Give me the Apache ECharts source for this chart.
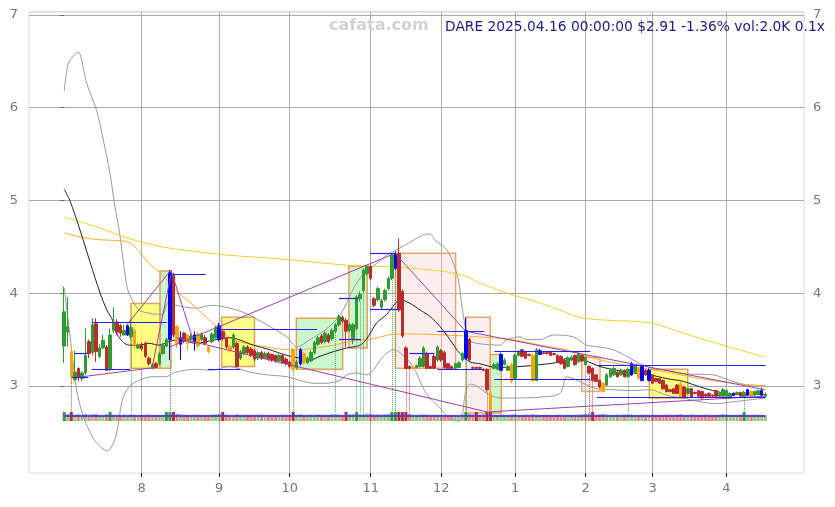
<!DOCTYPE html>
<html><head><meta charset="utf-8">
<script src="https://cdn.jsdelivr.net/npm/echarts@6/dist/echarts.min.js"></script>
<style>html,body{margin:0;padding:0;background:#fff}#c{width:835px;height:507px}</style>
</head><body><div id="c"></div>
<script>
// trading-day index 0 = 2024-07-01 ... 199 = 2025-04-16 ; rows are [open, close, low, high]
const candles = [
[3.43,3.80,3.25,4.07],[3.58,3.64,3.42,3.96],[3.37,3.09,3.03,3.44],[3.07,3.15,3.05,3.38],[3.19,3.09,3.05,3.20],
[3.08,3.14,3.05,3.16],[3.14,3.33,3.12,3.62],[3.48,3.35,3.30,3.50],[3.36,3.66,3.33,3.73],[3.67,3.37,3.26,3.73],
[3.32,3.41,3.30,3.45],[3.41,3.49,3.40,3.55],[3.42,3.17,3.16,3.44],[3.18,3.55,3.16,3.62],[3.60,3.69,3.57,3.85],
[3.69,3.58,3.55,3.72],[3.65,3.57,3.53,3.67],[3.55,3.60,3.54,3.66],[3.55,3.65,3.54,3.66],[3.53,3.63,3.50,3.71],
[3.60,3.44,3.40,3.62],[3.41,3.44,3.40,3.46],[3.45,3.40,3.38,3.47],[3.46,3.32,3.30,3.48],[3.30,3.24,3.22,3.32],
[3.19,3.23,3.18,3.25],[3.24,3.20,3.19,3.26],[3.24,3.35,3.22,3.37],[3.35,3.44,3.34,3.46],[3.43,3.50,3.42,3.52],
[3.50,4.22,3.28,4.25],[4.20,3.55,3.52,4.22],[3.64,3.46,3.41,3.66],[3.45,3.52,3.28,3.59],[3.57,3.48,3.46,3.58],
[3.55,3.46,3.39,3.56],[3.50,3.54,3.48,3.56],[3.48,3.55,3.38,3.59],[3.56,3.43,3.41,3.58],[3.50,3.56,3.48,3.58],
[3.52,3.46,3.44,3.55],[3.42,3.37,3.35,3.44],[3.48,3.56,3.46,3.58],[3.52,3.63,3.50,3.65],[3.50,3.65,3.48,3.68],
[3.59,3.51,3.49,3.61],[3.51,3.42,3.40,3.53],[3.43,3.38,3.36,3.45],[3.42,3.55,3.40,3.57],[3.46,3.21,3.20,3.48],
[3.30,3.37,3.28,3.39],[3.35,3.42,3.33,3.44],[3.42,3.36,3.34,3.44],[3.40,3.33,3.31,3.42],[3.38,3.29,3.27,3.40],
[3.30,3.36,3.28,3.38],[3.36,3.30,3.28,3.38],[3.30,3.35,3.29,3.37],[3.35,3.29,3.27,3.37],[3.34,3.28,3.26,3.35],
[3.33,3.27,3.25,3.34],[3.27,3.33,3.26,3.35],[3.33,3.25,3.24,3.34],[3.29,3.24,3.22,3.31],[3.26,3.21,3.19,3.27],
[3.39,3.18,3.16,3.41],[3.20,3.26,3.18,3.28],[3.24,3.39,3.22,3.41],[3.35,3.25,3.23,3.37],[3.25,3.30,3.24,3.32],
[3.27,3.36,3.26,3.38],[3.36,3.47,3.34,3.49],[3.45,3.52,3.43,3.54],[3.54,3.47,3.45,3.56],[3.48,3.57,3.46,3.59],
[3.55,3.48,3.46,3.57],[3.51,3.60,3.49,3.62],[3.59,3.66,3.57,3.68],[3.66,3.75,3.64,3.77],[3.74,3.70,3.68,3.76],
[3.71,3.59,3.42,3.73],[3.60,3.66,3.58,3.68],[3.50,3.66,3.45,3.68],[3.62,3.96,3.60,3.98],[3.94,3.99,3.91,4.02],
[4.03,4.25,4.01,4.27],[4.21,4.29,4.19,4.31],[4.29,4.16,4.14,4.31],[3.94,3.87,3.85,3.96],[3.93,4.05,3.91,4.07],
[3.85,3.92,3.83,3.94],[3.93,4.03,3.91,4.05],[4.05,4.16,4.03,4.18],[4.16,4.41,4.14,4.43],[4.27,4.42,4.25,4.45],
[4.43,3.82,3.80,4.59],[4.02,3.54,3.52,4.04],[3.41,3.19,3.18,3.43],[3.21,3.19,3.18,3.22],[3.19,3.20,3.18,3.21],
[3.20,3.22,3.19,3.23],[3.21,3.30,3.20,3.32],[3.21,3.41,3.20,3.43],[3.35,3.19,3.18,3.37],[3.21,3.19,3.18,3.22],
[3.32,3.19,3.18,3.34],[3.28,3.42,3.26,3.44],[3.38,3.28,3.26,3.40],[3.36,3.20,3.19,3.38],[3.24,3.19,3.18,3.25],
[3.21,3.19,3.18,3.22],[3.19,3.24,3.18,3.25],[3.20,3.25,3.19,3.27],[3.28,3.35,3.26,3.37],[3.30,3.60,3.28,3.74],
[3.50,3.28,3.26,3.52],[3.20,3.19,3.18,3.21],[3.20,3.19,3.18,3.21],[3.20,3.19,3.18,3.21],[3.18,3.17,3.16,3.19],
[3.18,2.96,2.94,3.19],[2.92,2.74,2.71,2.94],[3.19,3.23,3.18,3.25],[3.18,3.24,3.17,3.26],[3.17,3.34,3.16,3.36],
[3.23,3.28,3.22,3.30],[3.17,3.21,3.16,3.23],[3.23,3.05,3.03,3.25],[3.08,3.33,3.07,3.35],[3.33,3.37,3.32,3.39],
[3.39,3.32,3.31,3.40],[3.37,3.30,3.29,3.38],[3.34,3.33,3.32,3.35],[3.33,3.06,3.04,3.35],[3.06,3.39,3.05,3.41],
[3.34,3.38,3.33,3.40],[3.36,3.35,3.34,3.37],[3.36,3.35,3.34,3.37],[3.37,3.33,3.32,3.38],[3.35,3.34,3.33,3.36],
[3.33,3.26,3.25,3.34],[3.32,3.24,3.23,3.33],[3.28,3.19,3.18,3.29],[3.21,3.30,3.20,3.32],[3.28,3.31,3.27,3.33],
[3.33,3.23,3.22,3.34],[3.26,3.35,3.25,3.37],[3.33,3.27,3.26,3.34],[3.23,3.31,3.22,3.33],[3.21,3.14,3.13,3.22],
[3.19,3.06,3.05,3.20],[3.12,3.05,3.04,3.13],[3.06,2.99,2.98,3.07],[3.03,2.94,2.93,3.04],[3.01,3.12,3.00,3.14],
[3.10,3.17,3.09,3.19],[3.12,3.19,3.11,3.21],[3.15,3.10,3.09,3.16],[3.12,3.17,3.11,3.19],[3.17,3.10,3.09,3.18],
[3.10,3.18,3.09,3.20],[3.12,3.24,3.11,3.26],[3.15,3.21,3.14,3.23],[3.19,3.08,3.07,3.20],[3.06,3.21,3.05,3.23],
[3.17,3.12,3.11,3.18],[3.06,3.17,3.05,3.19],[3.12,3.03,3.02,3.13],[3.08,3.05,3.04,3.09],[3.08,3.03,3.02,3.09],
[3.06,2.97,2.96,3.07],[3.01,2.94,2.93,3.02],[2.96,2.94,2.93,2.97],[2.97,2.92,2.91,2.98],[3.01,2.92,2.91,3.02],
[3.03,2.88,2.87,3.04],[2.99,2.88,2.87,3.00],[2.92,2.97,2.91,2.98],[2.97,2.88,2.87,2.98],[2.93,2.92,2.91,2.94],
[2.95,2.89,2.88,2.96],[2.94,2.87,2.86,2.95],[2.91,2.89,2.88,2.92],[2.92,2.89,2.88,2.93],[2.90,2.89,2.88,2.91],
[2.95,2.89,2.88,2.96],[2.89,2.92,2.88,2.94],[2.89,2.96,2.88,2.98],[2.89,2.95,2.88,2.96],[2.87,2.92,2.86,2.93],
[2.90,2.92,2.89,2.93],[2.91,2.93,2.90,2.94],[2.93,2.89,2.88,2.94],[2.88,2.93,2.87,2.95],[2.90,2.96,2.89,2.97],
[2.94,2.89,2.88,2.95],[2.90,2.94,2.89,2.95],[2.91,2.95,2.90,2.96],[2.90,2.95,2.89,2.98],[2.89,2.91,2.88,2.93]
];
const orangeDays = [2,20,32,35,38,41,47,65,68,99,121,127,133,153,163,175,195];
const blueDays = [18,30,33,37,44,67,94,114,124,135,161,164,166,190,194,198];
const volumes = [
1.0,0.8,1.0,0.7,0.75,0.65,0.8,0.7,0.75,0.8, 0.6,0.65,0.75,1.0,0.7,0.65,0.6,0.7,0.6,0.75,
0.7,0.6,0.65,0.6,0.7,0.6,0.55,0.65,0.7,1.0, 1.0,1.0,0.8,0.75,0.7,0.65,0.6,0.7,0.65,0.6,
0.65,0.6,0.7,0.75,0.8,1.0,0.7,0.65,0.6,0.75, 0.6,0.65,0.7,0.6,0.65,0.6,0.7,0.6,0.65,0.6,
0.65,0.6,0.7,0.65,0.6,1.0,0.7,0.75,0.65,0.6, 0.7,0.65,0.75,0.6,0.7,0.65,0.75,0.8,0.7,0.65,
1.0,0.75,0.8,1.0,0.75,0.8,0.85,0.8,0.7,0.75, 0.7,0.75,0.8,1.0,1.0,1.0,1.0,1.0,0.8,0.7,
0.65,0.7,0.75,0.7,0.6,0.65,0.7,0.65,0.6,0.65, 0.6,0.65,0.6,0.7,1.0,0.8,0.75,1.0,0.7,0.75,
1.0,1.0,0.7,0.65,0.75,0.6,0.65,0.7,0.75,0.6, 0.65,0.7,0.6,0.75,0.7,0.65,0.6,0.65,0.6,0.65,
0.7,0.6,0.65,0.7,0.6,0.65,0.7,0.75,0.8,0.85, 1.0,0.7,0.75,0.8,0.7,0.65,0.6,0.7,0.65,0.7,
0.75,0.7,0.65,0.6,0.7,0.65,0.6,0.7,0.65,0.6, 0.65,0.7,0.6,0.65,0.7,0.75,0.6,0.65,0.7,0.6,
0.65,0.6,0.7,0.65,0.6,0.65,0.7,0.75,0.7,0.65, 0.6,0.65,0.7,1.0,0.65,0.6,0.7,0.65,0.6,0.65
];
const monthStarts = [22,44,64,87,107,128,148,167,188];
const monthLabels = ['8','9','10','11','12','1','2','3','4'];
const priceTicks = [3,4,5,6,7];
const maBlack = [[0,5.12],[1.6,5.0],[4.5,4.68],[7.3,4.34],[10.2,4.0],[12.1,3.82],[13.7,3.71],[14.6,3.59],[16.5,3.48],[18.4,3.44],[21.2,3.44],[24.1,3.46],[26.9,3.44],[29.8,3.48],[32.6,3.50],[37.3,3.46],[43,3.50],[47.1,3.52],[53.7,3.44],[58.4,3.39],[63.2,3.33],[66.9,3.30],[69.8,3.28],[72.6,3.32],[76.4,3.37],[80.2,3.41],[84,3.44],[85.9,3.51],[88.7,3.68],[91.5,3.77],[94.4,3.91],[95.3,3.93],[98.2,3.89],[101,3.82],[103.8,3.75],[106.7,3.64],[109.5,3.50],[112.3,3.35],[115.2,3.26],[118,3.24],[120.9,3.21],[123.7,3.20],[129.4,3.21],[135.1,3.23],[140.7,3.26],[142.6,3.30],[147.3,3.28],[152.1,3.21],[156.8,3.17],[161.5,3.14],[166.3,3.12],[171,3.08],[175.7,3.05],[180.5,2.99],[185.2,2.94],[189.9,2.91],[199,2.91]];
const maOrange = [[0,4.65],[4.2,4.61],[8.9,4.58],[13.7,4.57],[18.4,4.55],[21.2,4.45],[24.1,4.32],[27.8,4.20],[32.6,4.0],[37.3,3.85],[42,3.68],[48,3.50],[57.5,3.42],[64.1,3.39],[69.8,3.40],[76.4,3.44],[81.1,3.48],[87.7,3.51],[93.9,3.56],[99,3.56],[113.3,3.54],[120.9,3.52],[127.4,3.50],[135.1,3.44],[142.6,3.39],[152.1,3.28],[161.5,3.21],[171,3.15],[180.5,3.08],[189.9,3.03],[199,3.0]];
const maYellow = [[0,4.82],[8.9,4.72],[18.4,4.59],[27.8,4.50],[37.3,4.45],[46.8,4.41],[57.5,4.38],[66.9,4.35],[81.1,4.30],[95.3,4.28],[108.6,4.23],[114.2,4.18],[118,4.11],[127.4,3.98],[132.2,3.93],[140.7,3.82],[147.3,3.73],[166.3,3.68],[175.7,3.57],[185.2,3.46],[199,3.31]];
const bandUpper = [[0,6.18],[1.2,6.48],[3.1,6.58],[4,6.60],[6.4,6.26],[9.2,5.97],[11.1,5.65],[13,5.29],[14.4,4.93],[15.6,4.68],[17.5,4.14],[18.4,4.0],[21.2,3.82],[25,3.78],[27.8,3.77],[29.7,3.91],[31.7,3.87],[37.3,3.84],[42,3.87],[46.8,3.84],[51.8,3.78],[57.5,3.66],[63.2,3.53],[66,3.42],[69.8,3.50],[73.5,3.59],[76.4,3.68],[79.2,3.82],[82.1,4.05],[84.9,4.21],[87.7,4.29],[91.5,4.41],[94.4,4.47],[99.1,4.57],[101.9,4.63],[103.8,4.64],[105.3,4.57],[108.6,4.47],[110.5,4.32],[111.9,4.14],[112.8,3.89],[113.8,3.64],[114.7,3.50],[117.1,3.46],[123.7,3.44],[125.6,3.50],[129.4,3.53],[131.3,3.50],[135.1,3.50],[138.8,3.55],[144.5,3.53],[148.3,3.44],[152.1,3.42],[155.9,3.39],[159.7,3.32],[163.5,3.24],[167.2,3.19],[171,3.17],[176.7,3.13],[184.3,3.12],[189,3.06],[193.7,3.01],[199,3.0]];
const bandLower = [[0,4.06],[2.1,3.39],[3.5,2.96],[5.4,2.67],[7,2.53],[8.9,2.40],[12.2,2.30],[14.6,2.45],[16.5,2.85],[18.4,2.99],[21.2,3.06],[25,3.10],[28.8,3.10],[31.7,3.15],[37.3,3.18],[42,3.17],[46.8,3.21],[52.7,3.15],[57.5,3.12],[63.2,3.10],[66.9,3.06],[70.7,3.03],[74.5,3.03],[78.3,3.06],[80.2,3.12],[83,3.14],[85.9,3.12],[87.7,3.17],[90.6,3.32],[93.4,3.39],[95.3,3.36],[99,3.21],[102,2.97],[104,2.86],[106.7,2.76],[109.5,2.65],[112.3,2.62],[114,2.95],[115.2,3.02],[117.1,3.0],[120,2.92],[123.7,2.87],[127.4,2.87],[135.1,2.88],[140.7,2.92],[142.6,3.10],[144.5,3.08],[147.3,3.03],[151.2,2.97],[155.9,2.96],[161.5,2.95],[166.3,2.96],[171,2.90],[175.7,2.87],[180.5,2.83],[185.2,2.81],[189.9,2.83],[199,2.87]];
// boxes: [fromIdx, toIdx, low, high, kind]
const boxes = [[18.95,27.2,3.19,3.89,'y'],[27.2,30.3,3.19,4.24,'g'],[44.7,54.0,3.21,3.74,'y'],[65.9,79.05,3.18,3.73,'g'],[80.8,86.0,3.41,4.29,'g'],[94.0,111.1,3.19,4.43,'p'],[114.05,120.95,2.71,3.74,'p'],[120.95,124.1,2.71,3.34,'g'],[146.9,152.1,2.94,3.31,'p'],[166.1,177.0,2.87,3.18,'y']];
// horizontal levels: [fromIdx, toIdx, price]
const levels = [[2.86,6.8,3.35],[2.12,6.8,3.09],[7.8,29.1,3.69],[7.9,18.7,3.18],[31.0,40.2,4.20],[40.8,49.9,3.18],[43.7,71.8,3.61],[78.0,83.3,3.95],[78.0,84.2,3.50],[86.8,93.9,4.43],[86.8,95.0,3.83],[98.0,105.1,3.35],[105.9,119.0,3.18],[105.9,119.2,3.59],[122.1,149.3,3.37],[122.1,149.3,3.07],[151.2,199.1,3.22],[151.2,199.1,2.88]];
// trend lines: [idx1, price1, idx2, price2]
const trends = [[3.06,3.09,25.8,3.20],[17.8,3.66,30.3,4.25],[24.9,3.19,30.3,4.20],[30.3,4.25,36.3,3.53],[31.9,3.52,120.0,2.72],[30.0,3.42,93.9,4.43],[93.9,4.43,114.0,3.59],[114.0,3.59,198.9,2.96],[120.0,2.72,198.9,2.89]];
const signalsUp = [19,30,65,77,83,84,85,93,94,114,160,193];
const signalsDown = [2,97,98,120,121,149,150];
const volMaA = [[0,0.62],[199,0.62]];
const volMaB = [[0,0.5],[199,0.5]];

const UP='#339933', DOWN='#b82c2c', ORANGE='#ffa500', BLUE='#0000ee';
const candleData = candles.map((r,i)=>{
  const item = {value:[i, r[0], r[1], r[2], r[3]]};
  let col = null;
  if (orangeDays.includes(i)) col = ORANGE;
  if (blueDays.includes(i)) col = BLUE;
  if (col) item.itemStyle = {color:col,color0:col,borderColor:col,borderColor0:col};
  return item;
});
const volData = volumes.map((v,i)=>{
  const up = candles[i][1] >= candles[i][0];
  const strong = v >= 0.95;
  return {value:[i,v], itemStyle:{color: up ? UP : DOWN, opacity: strong ? 1 : 0.55}};
});
const boxStyle = {
  y:{color:'rgba(255,255,110,0.85)', borderColor:'#e3a25c', borderWidth:1.5},
  g:{color:'rgba(170,240,170,0.6)', borderColor:'#e3a25c', borderWidth:1.5},
  p:{color:'rgba(250,205,205,0.35)', borderColor:'#e8a86c', borderWidth:1.5}
};
const areaData = boxes.map(b=>[{xAxis:b[0], yAxis:b[3], itemStyle:boxStyle[b[4]]},{xAxis:b[1], yAxis:b[2]}]);
const levelData = levels.map(l=>[{coord:[l[0],l[2]]},{coord:[l[1],l[2]]}]);
const trendData = trends.map(t=>[{coord:[t[0],t[1]]},{coord:[t[2],t[3]]}]);
const sigData = signalsUp.map(i=>[{coord:[i,candles[i][2]], lineStyle:{color:'#4caf50'}},{coord:[i,2.71]}])
  .concat(signalsDown.map(i=>[{coord:[i,candles[i][2]], lineStyle:{color:'#d05050'}},{coord:[i,2.71]}]));

const lineS = (name,data,color,z)=>({name,type:'line',data,showSymbol:false,smooth:0.3,z,silent:true,
  lineStyle:{color,width:1},xAxisIndex:0,yAxisIndex:0});
const FONT='DejaVu Sans';
const chart = echarts.init(document.getElementById('c'),null,{renderer:'canvas'});
chart.setOption({
  animation:false,
  grid:[{left:29,right:31,top:12,bottom:34,show:true,borderColor:'#dcdcdc',borderWidth:1},
        {left:29,right:31,top:412,height:9}],
  xAxis:[{type:'value',min:-10,max:210,gridIndex:0,
     axisLine:{show:false},
     axisTick:{show:true,customValues:monthStarts,length:4,lineStyle:{color:'#222'}},
     axisLabel:{customValues:monthStarts,formatter:v=>monthLabels[monthStarts.indexOf(v)],color:'#777',fontSize:13,fontFamily:FONT,margin:9},
     splitLine:{show:true,lineStyle:{color:'#aaa',width:1}}},
    {type:'value',min:-10,max:210,gridIndex:1,show:false}],
  yAxis:[{type:'value',min:2.062,max:7.032,gridIndex:0,position:'left',
     axisLine:{show:false},
     axisTick:{show:true,customValues:priceTicks,length:4,lineStyle:{color:'#666'}},
     axisLabel:{customValues:priceTicks,color:'#777',fontSize:13,fontFamily:FONT,margin:11},
     splitLine:{show:true,lineStyle:{color:'#aaa',width:1}}},
    {type:'value',min:2.062,max:7.032,gridIndex:0,position:'right',
     axisLine:{show:false},axisTick:{show:false,customValues:priceTicks},
     axisLabel:{customValues:priceTicks,color:'#777',fontSize:13,fontFamily:FONT,margin:9},
     splitLine:{show:false}},
    {type:'value',min:0,max:1,gridIndex:1,show:false}],
  graphic:[
    {type:'line',shape:{x1:29,y1:11.5,x2:804,y2:11.5},style:{stroke:'#ccc',lineDash:[2,2],lineWidth:1},z:0},
    {type:'text',left:329,top:18,style:{text:'cafata.com',fill:'#d2d2d2',font:'bold 16px "DejaVu Sans"'},z:10},
    {type:'text',left:445,top:20,style:{text:'DARE 2025.04.16 00:00:00 $2.91 -1.36% vol:2.0K 0.1x',fill:'#1c1c8c',font:'13.8px "DejaVu Sans"'},z:10}
  ],
  series:[
    {type:'line',data:[],xAxisIndex:0,yAxisIndex:0,z:1,silent:true,
      markArea:{silent:true,data:areaData}},
    {type:'line',data:[],xAxisIndex:0,yAxisIndex:0,z:2,silent:true,
      markLine:{silent:true,symbol:['none','none'],label:{show:false},
        lineStyle:{type:'dotted',width:1},data:sigData}},
    lineS('upper',bandUpper,'#999',3),
    lineS('lower',bandLower,'#999',3),
    lineS('ma120',maYellow,'#f5cf2a',3),
    lineS('ma60',maOrange,'#fbab2c',3),
    lineS('ma20',maBlack,'#222',3),
    {type:'candlestick',data:candleData,xAxisIndex:0,yAxisIndex:0,z:4,barWidth:3,silent:true,
      encode:{x:0,y:[1,2,3,4]},
      itemStyle:{color:UP,color0:DOWN,borderColor:UP,borderColor0:DOWN,borderWidth:1}},
    {type:'line',data:[],xAxisIndex:0,yAxisIndex:0,z:5,silent:true,
      markLine:{silent:true,symbol:['none','none'],label:{show:false},
        lineStyle:{type:'solid',width:1,color:'#a040a8'},data:trendData}},
    {type:'line',data:[],xAxisIndex:0,yAxisIndex:0,z:6,silent:true,
      markLine:{silent:true,symbol:['none','none'],label:{show:false},
        lineStyle:{type:'solid',width:1.2,color:'#2222ff'},data:levelData}},
    {type:'bar',data:volData,xAxisIndex:1,yAxisIndex:2,barWidth:3,silent:true,z:2},
    {type:'line',data:volMaA,xAxisIndex:1,yAxisIndex:2,showSymbol:false,silent:true,lineStyle:{color:'#3b3bff',width:1},z:3},
    {type:'line',data:volMaB,xAxisIndex:1,yAxisIndex:2,showSymbol:false,silent:true,lineStyle:{color:'#7a3a9a',width:1},z:3}
  ]
});
</script></body></html>
